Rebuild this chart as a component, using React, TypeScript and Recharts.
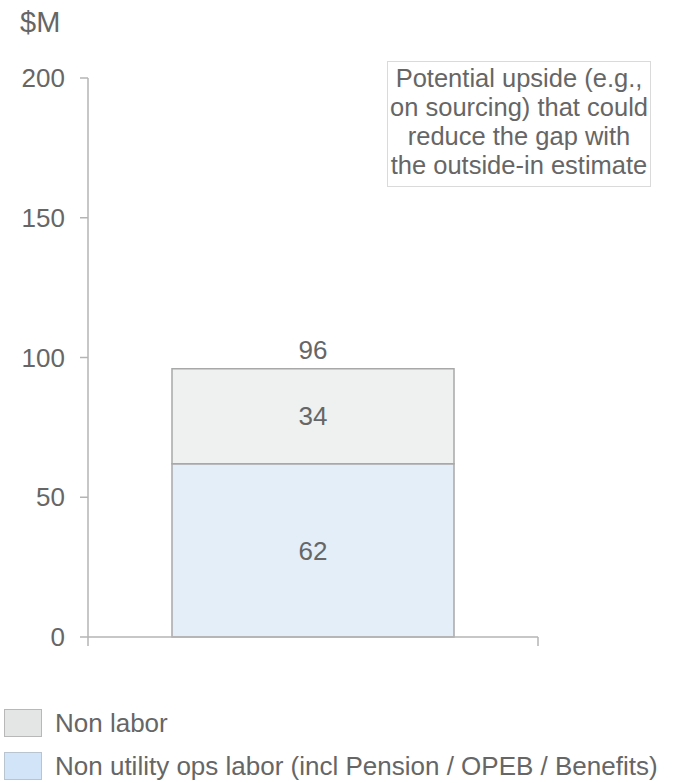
import React from "react";
import { BarChart, Bar, XAxis, YAxis, LabelList } from "recharts";

const categories = ["Cost base"];
const laborValues = [62];
const nonLaborValues = [34];
const yTicks = [0, 50, 100, 150, 200];

const legendItems = [
  { name: "Non labor", fill: "#e4e5e5", stroke: "#b8b8b8" },
  { name: "Non utility ops labor (incl Pension / OPEB / Benefits)", fill: "#d2e4f7", stroke: "#b8c4d0" },
];

const noteLines = [
  "Potential upside (e.g.,",
  "on sourcing) that could",
  "reduce the gap with",
  "the outside-in estimate",
];

const data = categories.map((name, i) => ({
  name,
  labor: laborValues[i],
  nonLabor: nonLaborValues[i],
}));

const totals = data.map((d) => d.labor + d.nonLabor);

const FONT = "'Liberation Sans', Arial, Helvetica, sans-serif";
const TEXT = "#666666";
const AXIS = "#b4b4b4";

// category axis: no label, just short marks at both edges of the band
const BandEdgeTick = (props: any) => {
  const { x, y, payload } = props;
  const half = payload?.offset ?? (props.width ? props.width / 2 : 0);
  return (
    <g>
      <line x1={x - half} x2={x - half} y1={y} y2={y + 9} stroke={AXIS} strokeWidth={1.5} />
      <line x1={x + half} x2={x + half} y1={y} y2={y + 9} stroke={AXIS} strokeWidth={1.5} />
    </g>
  );
};

export default function App() {
  return (
    <div
      style={{
        position: "absolute",
        left: 0,
        top: 0,
        width: 681,
        height: 783,
        background: "#fff",
        fontFamily: FONT,
        color: TEXT,
        overflow: "hidden",
      }}
    >
      <div style={{ position: "absolute", left: 20, top: 5, fontSize: 29, lineHeight: "34px" }}>$M</div>

      <BarChart
        width={681}
        height={783}
        data={data}
        margin={{ top: 78, right: 143, left: 0, bottom: 136 }}
        barSize={282}
      >
        <XAxis
          dataKey="name"
          type="category"
          height={10}
          tickLine={false}
          tickSize={0}
          tickMargin={0}
          tick={BandEdgeTick}
          axisLine={{ stroke: AXIS, strokeWidth: 1.5 }}
        />
        <YAxis
          domain={[0, 200]}
          ticks={yTicks}
          width={88}
          tickSize={8}
          tickMargin={15}
          axisLine={{ stroke: AXIS, strokeWidth: 1.5 }}
          tickLine={{ stroke: AXIS, strokeWidth: 1.5 }}
          tick={{ fill: TEXT, fontSize: 26, fontFamily: FONT }}
        />
        <Bar
          dataKey="labor"
          stackId="a"
          fill="#e4eef9"
          stroke="#a8a8a8"
          strokeWidth={1.5}
          isAnimationActive={false}
        >
          <LabelList dataKey="labor" position="center" fill={TEXT} fontSize={26} fontFamily={FONT} />
        </Bar>
        <Bar
          dataKey="nonLabor"
          stackId="a"
          fill="#eff0f0"
          stroke="#a8a8a8"
          strokeWidth={1.5}
          isAnimationActive={false}
        >
          <LabelList dataKey="nonLabor" position="center" fill={TEXT} fontSize={26} fontFamily={FONT} />
          <LabelList
            dataKey="nonLabor"
            position="top"
            offset={10}
            fill={TEXT}
            fontSize={26}
            fontFamily={FONT}
            formatter={() => String(totals[0])}
          />
        </Bar>
      </BarChart>

      <div
        style={{
          position: "absolute",
          left: 387,
          top: 61,
          padding: "2px 2px 6px",
          border: "1.5px solid #dadada",
          textAlign: "center",
          fontSize: 25.5,
          lineHeight: "29px",
          whiteSpace: "nowrap",
        }}
      >
        {noteLines.map((l) => (
          <div key={l}>{l}</div>
        ))}
      </div>

      <div style={{ position: "absolute", left: 4, top: 701 }}>
        {legendItems.map((it) => (
          <div key={it.name} style={{ display: "flex", alignItems: "center", height: 43, lineHeight: "30px" }}>
            <span
              style={{
                display: "inline-block",
                width: 36,
                height: 26,
                background: it.fill,
                border: `1.5px solid ${it.stroke}`,
                marginRight: 13,
              }}
            />
            <span style={{ fontSize: 26 }}>{it.name}</span>
          </div>
        ))}
      </div>
    </div>
  );
}
